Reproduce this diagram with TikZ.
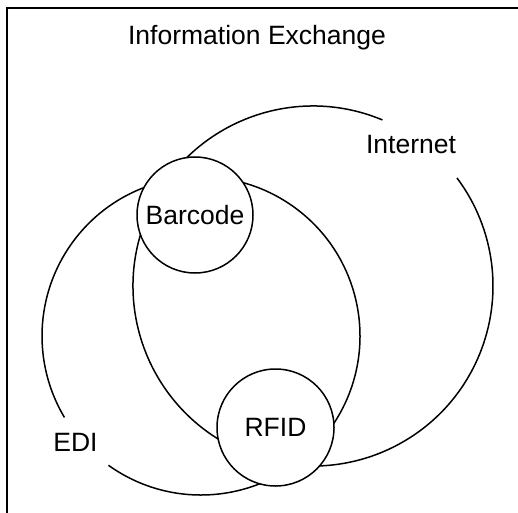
\documentclass[tikz,border=0pt]{standalone}
\usepackage{fontspec}
\setmainfont{Liberation Sans}
\usepackage{xcolor}
\usepackage{tikz}
\usetikzlibrary{positioning,calc}
\definecolor{LineBlack}{RGB}{0,0,0}

\begin{document}
\begin{tikzpicture}[x=1pt,y=1pt,
  every node/.style={font=\fontsize{26.5}{31}\selectfont},
  techcircle/.style={circle,draw=LineBlack,line width=1.5pt,fill=white,inner sep=0pt,minimum size=116pt},
  setarc/.style={LineBlack,line width=1.5pt}]
\useasboundingbox(0,0)rectangle(518,512);
\draw[LineBlack,line width=1.6pt](7,504)rectangle(560,-40);
\node[anchor=base](title)at(257,467.5){Information Exchange};
% Internet set (gap at its label)
\coordinate(inetc)at(313,226);
\draw[setarc]($(inetc)+(67.3:180)$)arc[start angle=67.3,end angle=396.9,radius=180];
\node(internet)at(411,367){Internet};
% EDI set (gap at its label)
\coordinate(edic)at(201,176);
\draw[setarc]($(edic)+(234.4:159)$)arc[start angle=234.4,end angle=570.8,radius=159];
\node(edi)at(75.5,69.5){EDI};
% Carriers
\node[techcircle](barcode)at(195,297){Barcode};
\node[techcircle,minimum size=117pt](rfid)at(275.5,84.5){RFID};
\end{tikzpicture}
\end{document}
